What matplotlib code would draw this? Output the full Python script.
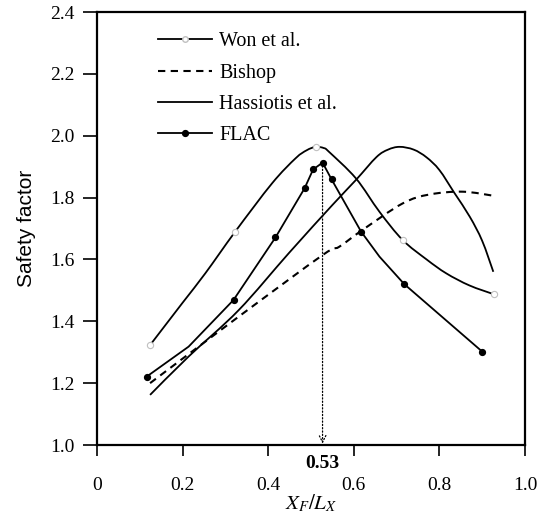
import matplotlib
matplotlib.use("Agg")
import matplotlib.pyplot as plt
from matplotlib.lines import Line2D
from matplotlib.path import Path
from matplotlib.patches import PathPatch

# ---- data ----
won_line_x = [0.124, 0.20, 0.253, 0.323, 0.409, 0.464, 0.49, 0.511, 0.53, 0.542, 0.605, 0.66, 0.714, 0.77, 0.816, 0.87, 0.928]
won_line_y = [1.323, 1.46, 1.555, 1.69, 1.846, 1.927, 1.953, 1.964, 1.960, 1.948, 1.862, 1.754, 1.663, 1.60, 1.555, 1.516, 1.487]
won_x = [0.124, 0.323, 0.511, 0.714, 0.928]
won_y = [1.323, 1.69, 1.964, 1.663, 1.487]

bishop_x = [0.124, 0.331, 0.527, 0.566, 0.62, 0.714, 0.777, 0.855, 0.93]
bishop_y = [1.20, 1.415, 1.614, 1.641, 1.695, 1.781, 1.81, 1.819, 1.805]

hass_x = [0.124, 0.214, 0.331, 0.448, 0.55, 0.605, 0.653, 0.68, 0.707, 0.74, 0.77, 0.80, 0.835, 0.871, 0.90, 0.926]
hass_y = [1.162, 1.286, 1.436, 1.62, 1.776, 1.857, 1.931, 1.955, 1.964, 1.955, 1.93, 1.889, 1.815, 1.738, 1.66, 1.56]

flac_line_x = [0.116, 0.214, 0.319, 0.417, 0.485, 0.505, 0.527, 0.548, 0.617, 0.66, 0.718, 0.90]
flac_line_y = [1.221, 1.318, 1.469, 1.671, 1.83, 1.891, 1.913, 1.859, 1.69, 1.609, 1.52, 1.302]
flac_x = [0.116, 0.319, 0.417, 0.485, 0.505, 0.527, 0.548, 0.617, 0.718, 0.90]
flac_y = [1.221, 1.469, 1.671, 1.83, 1.891, 1.913, 1.859, 1.69, 1.52, 1.302]

opt_x = 0.527
opt_label = "0.53"

xticks = [0, 0.2, 0.4, 0.6, 0.8, 1.0]
xtick_labels = ["0", "0.2", "0.4", "0.6", "0.8", "1.0"]
yticks = [1.0, 1.2, 1.4, 1.6, 1.8, 2.0, 2.2, 2.4]
ytick_labels = ["1.0", "1.2", "1.4", "1.6", "1.8", "2.0", "2.2", "2.4"]

labels = ["Won et al.", "Bishop", "Hassiotis et al.", "FLAC"]


def smooth_path(xs, ys, t=1.0 / 6.0):
    """Catmull-Rom style Bezier path passing through the given points."""
    pts = list(zip(xs, ys))
    verts = [pts[0]]
    codes = [Path.MOVETO]
    n = len(pts)
    for i in range(n - 1):
        p0 = pts[i - 1] if i > 0 else pts[i]
        p1 = pts[i]
        p2 = pts[i + 1]
        p3 = pts[i + 2] if i + 2 < n else pts[i + 1]
        c1 = (p1[0] + (p2[0] - p0[0]) * t, p1[1] + (p2[1] - p0[1]) * t)
        c2 = (p2[0] - (p3[0] - p1[0]) * t, p2[1] - (p3[1] - p1[1]) * t)
        verts += [c1, c2, p2]
        codes += [Path.CURVE4] * 3
    return Path(verts, codes)


# ---- figure ----
plt.rcParams["mathtext.fontset"] = "stix"
serif = "Liberation Serif"

fig = plt.figure(figsize=(5.43, 5.17), dpi=100)
ax = fig.add_axes([97 / 543, 1 - 445 / 517, 428 / 543, 433 / 517])

lw = 1.3
dash = (0, (3.5, 2.6))
ax.add_patch(PathPatch(smooth_path(won_line_x, won_line_y), fill=False, ec="black", lw=lw, zorder=3))
ax.plot(won_x, won_y, ls="none", marker="o", ms=4.5, mfc="white", mec="#c0c0c0", mew=0.8, zorder=4)
ax.add_patch(PathPatch(smooth_path(bishop_x, bishop_y), fill=False, ec="black", lw=1.5, ls=dash, zorder=3))
ax.add_patch(PathPatch(smooth_path(hass_x, hass_y), fill=False, ec="black", lw=lw, zorder=3))
ax.plot(flac_line_x, flac_line_y, color="black", lw=lw, zorder=3)
ax.plot(flac_x, flac_y, ls="none", marker="o", ms=4.2, color="black", zorder=4)

flac_peak = flac_y[flac_x.index(opt_x)]
ax.annotate("", xy=(opt_x, 1.0), xytext=(opt_x, flac_peak),
            arrowprops=dict(arrowstyle="->", color="black", lw=0.9, ls=":",
                            shrinkA=0, shrinkB=1, mutation_scale=12))
ax.annotate(opt_label, xy=(opt_x, 1.0), xytext=(0, -13), textcoords="offset points",
            ha="center", va="center", fontsize=14, fontweight="bold", family=serif)

ax.set_xlim(0, 1.0)
ax.set_ylim(1.0, 2.4)
ax.set_xticks(xticks)
ax.set_xticklabels(xtick_labels, family=serif, fontsize=14)
ax.set_yticks(yticks)
ax.set_yticklabels(ytick_labels, family=serif, fontsize=14)
ax.tick_params(axis="x", direction="out", length=8, width=1.2, pad=15)
ax.tick_params(axis="y", direction="out", length=10, width=1.2, pad=6)
for s in ax.spines.values():
    s.set_linewidth(1.6)

ax.set_xlabel(r"$X_F/L_X$", fontsize=15, labelpad=-1)
ax.set_ylabel("Safety factor", family="Liberation Sans", fontsize=15, labelpad=10)

handles = [
    Line2D([], [], color="black", lw=lw, marker="o", ms=4, mfc="white", mec="#c0c0c0"),
    Line2D([], [], color="black", lw=1.5, ls=dash),
    Line2D([], [], color="black", lw=lw),
    Line2D([], [], color="black", lw=lw, marker="o", ms=4.2),
]
leg = ax.legend(handles, labels, loc="upper left", bbox_to_anchor=(0.10, 0.995),
                frameon=False, prop={"family": serif, "size": 14.5},
                handlelength=2.7, handletextpad=0.35, labelspacing=0.6)

fig.savefig("out.png", dpi=100)
